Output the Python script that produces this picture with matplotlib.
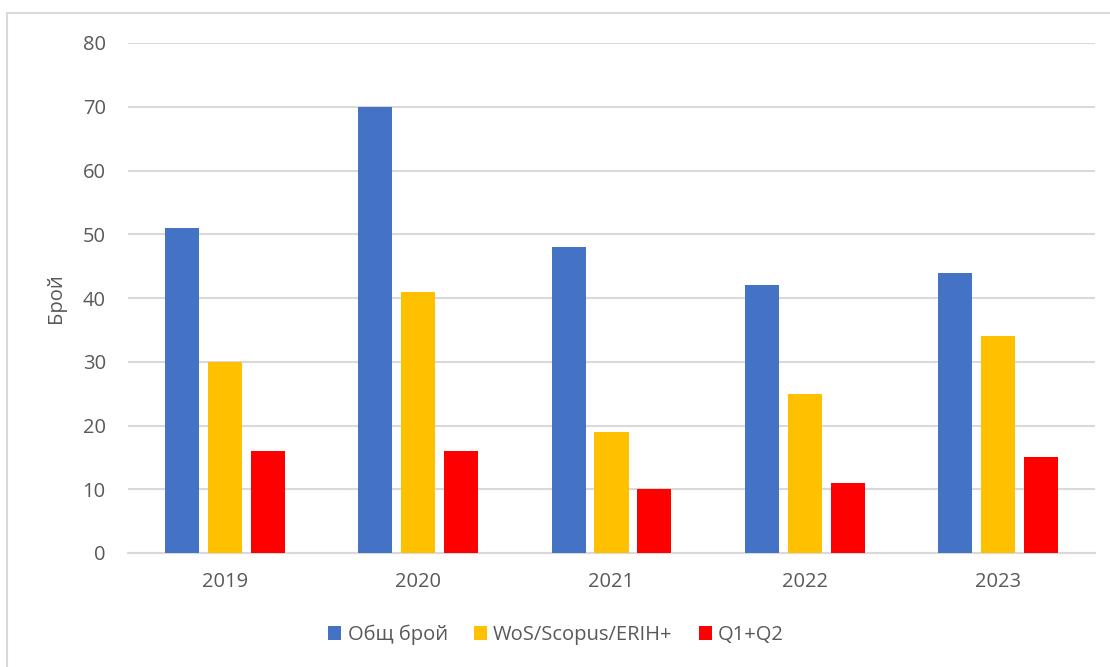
import numpy as np
import matplotlib
matplotlib.use("Agg")
import matplotlib.pyplot as plt
from matplotlib.patches import Rectangle

# data
years = ["2019", "2020", "2021", "2022", "2023"]
total = [51, 70, 48, 42, 44]
wos = [30, 41, 19, 25, 34]
q1q2 = [16, 16, 10, 11, 15]
series_names = ["Общ брой", "WoS/Scopus/ERIH+", "Q1+Q2"]
colors = ["#4472C4", "#FFC000", "#FF0000"]
yticks = [0, 10, 20, 30, 40, 50, 60, 70, 80]

plt.rcParams['font.family'] = ['Open Sans', 'DejaVu Sans']
txt = "#595959"
grid = "#d9d9d9"

fig = plt.figure(figsize=(11.1, 6.67), dpi=100)
ax = fig.add_axes([128 / 1110, 1 - 553 / 667, 967 / 1110, 510 / 667])

# outer chart frame (top and left edge visible)
frame = Rectangle((7 / 1110, -0.5), 2.0, 1.5 - 13 / 667, transform=fig.transFigure,
                  fill=False, edgecolor=grid, linewidth=1.5)
fig.patches.append(frame)

x = np.arange(len(years))
w = 0.176
step = 0.222
for i, (vals, name, c) in enumerate(zip([total, wos, q1q2], series_names, colors)):
    ax.bar(x + (i - 1) * step, vals, width=w, color=c, label=name, zorder=3)

ax.set_xlim(-0.5, len(years) - 0.5)
ax.set_ylim(0, 80)
ax.set_yticks(yticks)
ax.set_xticks(x)
ax.set_xticklabels(years)
ax.yaxis.grid(True, color=grid, linewidth=1.5, zorder=0)
for s in ["top", "right", "left"]:
    ax.spines[s].set_visible(False)
ax.spines["bottom"].set_color(grid)
ax.spines["bottom"].set_linewidth(1.5)
ax.tick_params(axis="both", length=0, labelsize=14.5, colors=txt)
ax.tick_params(axis="y", pad=16)
ax.tick_params(axis="x", pad=14)
ax.set_ylabel("Брой", fontsize=14.5, color=txt, labelpad=12)

leg = fig.legend(loc="center", bbox_to_anchor=(556 / 1110, 1 - 635 / 667), ncol=3,
                 frameon=False, fontsize=14.5, handlelength=0.65, handleheight=0.65,
                 handletextpad=0.3, columnspacing=1.3, labelcolor=txt)

fig.savefig("out.png", dpi=100)
